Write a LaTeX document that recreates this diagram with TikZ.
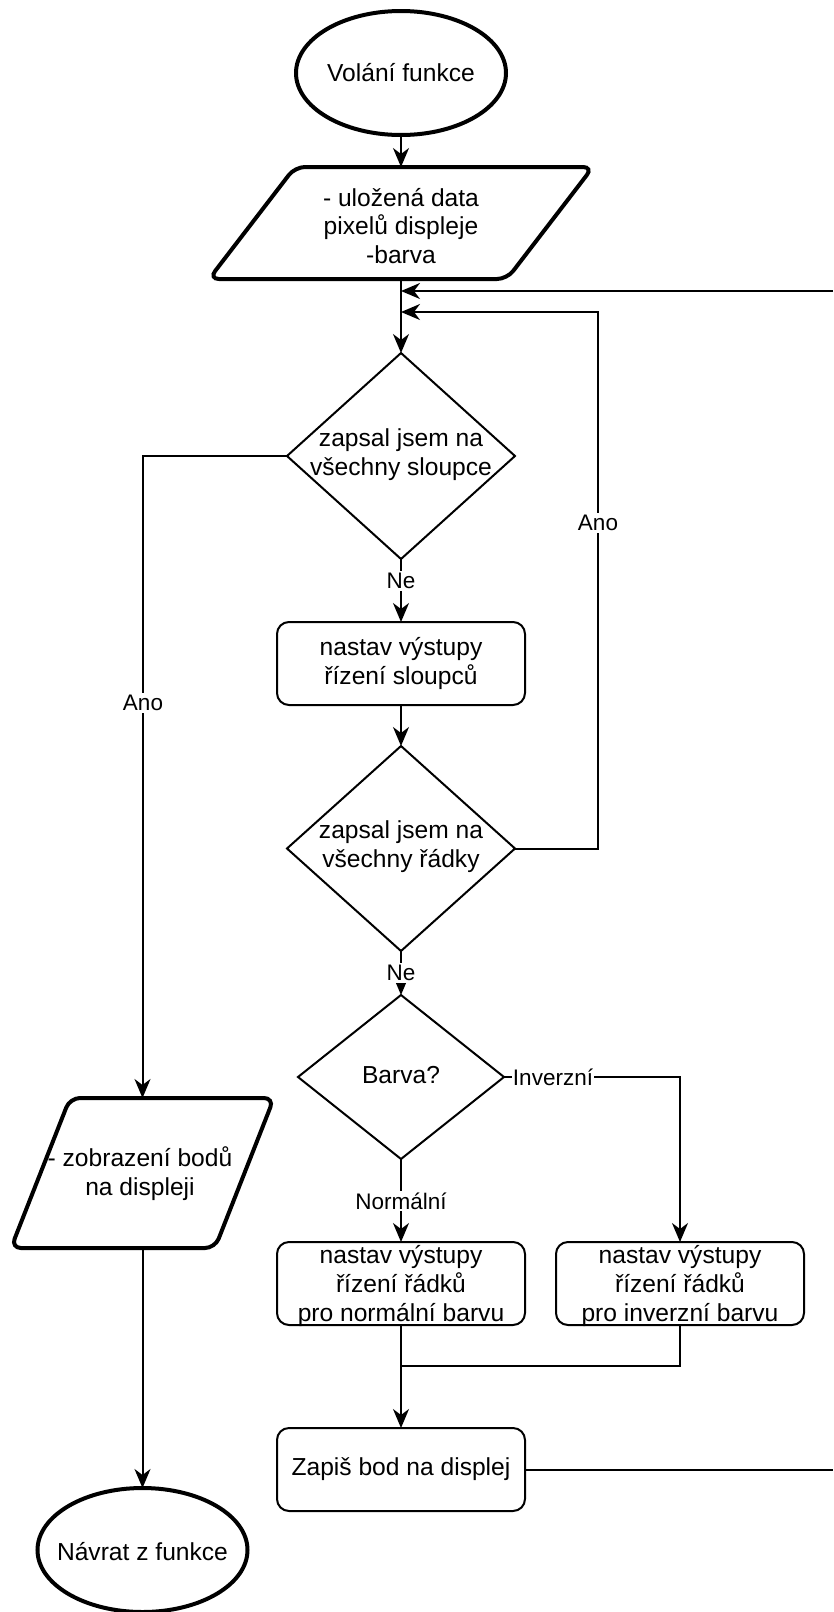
\documentclass[tikz,border=0pt]{standalone}
\usepackage{fontspec}
\setmainfont{Liberation Sans}
\usetikzlibrary{shapes.geometric,arrows.meta,calc}
\begin{document}
\begin{tikzpicture}[x=1pt,y=-1pt,
  font=\fontsize{24.6}{28.8}\selectfont,
  every node/.style={inner sep=0pt, outer sep=0pt, align=center},
  terminal/.style={ellipse, draw, line width=4pt, minimum width=210pt, minimum height=124pt},
  iobox/.style={minimum height=#1},
  slanted/.style={line width=4pt, rounded corners=10pt},
  decision/.style={diamond, draw, line width=2pt},
  process/.style={rectangle, draw, line width=2pt, rounded corners=12pt,
                  minimum width=248pt, minimum height=83pt},
  flow/.style={line width=2pt, -{Stealth[length=19pt,width=16pt,inset=6pt]}},
  link/.style={line width=2pt},
  lbl/.style={fill=white, inner sep=2pt, font=\fontsize{22.5}{26}\selectfont},
]
\useasboundingbox (0,0) rectangle (833,1612);

% start
\node[terminal] (start) at (401,73) {Volání funkce};

% input data
\node[minimum width=384pt, iobox=112pt] (data) at (401,223) {};
\draw[slanted] ($(data.north west)+(86,0)$) -- (data.north east)
  -- ($(data.south east)-(86,0)$) -- (data.south west) -- cycle;
\node (datatext) at (401,226) {- uložená data\\pixelů displeje\\-barva};

% column loop test
\node[decision, minimum width=228pt, minimum height=206pt] (q1) at (401,456) {};
\node (q1text) at (401,455) {zapsal jsem na\\všechny sloupce};

% column outputs
\node[process] (cols) at (401,663.5) {nastav výstupy\\řízení sloupců};

% row loop test
\node[decision, minimum width=228pt, minimum height=205pt] (q2) at (401,848.5) {};
\node (q2text) at (401,847) {zapsal jsem na\\všechny řádky};

% colour test
\node[decision, minimum width=206pt, minimum height=164pt] (q3) at (401,1077) {};
\node (q3text) at (401,1075) {Barva?};

% row outputs
\node[process] (rowsn) at (401,1283.5) {};
\node (rowsntext) at (401,1286) {nastav výstupy\\řízení řádků\\pro normální barvu};
\node[process] (rowsi) at (680,1283.5) {};
\node (rowsitext) at (680,1286) {nastav výstupy\\řízení řádků\\pro inverzní barvu};

% write point
\node[process] (write) at (401,1469.5) {Zapiš bod na displej};

% output to display
\node[minimum width=263pt, iobox=150pt] (show) at (142.5,1173) {};
\draw[slanted] ($(show.north west)+(59,0)$) -- (show.north east)
  -- ($(show.south east)-(59,0)$) -- (show.south west) -- cycle;
\node (showtext) at (140,1174) {- zobrazení bodů\\na displeji};

% end
\node[terminal] (stop) at (142.5,1550) {};
\node (stoptext) at (142.5,1552) {Návrat z funkce};

% helper points
\coordinate (in1) at (401,291);
\coordinate (in2) at (401,312);
\coordinate (edgeA) at (833,291);
\coordinate (turnA) at (598,312);
\coordinate (join) at (401,1366);
\coordinate (edgeB) at (833,1469.5);

% connectors
\draw[flow] (start.south) -- (data.north);
\draw[flow] (data.south) -- (q1.north);
\draw[flow] (edgeA) -- (in1);
\draw[flow] (q2.east) -| (turnA) -- (in2);
\draw[flow] (q1.south) -- (cols.north);
\draw[flow] (cols.south) -- (q2.north);
\draw[flow] (q2.south) -- (q3.north);
\draw[flow] (q1.west) -| (show.north);
\draw[flow] (q3.south) -- (rowsn.north);
\draw[flow] (q3.east) -| (rowsi.north);
\draw[flow] (rowsn.south) -- (write.north);
\draw[link] (rowsi.south) |- (join);
\draw[link] (write.east) -- (edgeB);
\draw[flow] (show.south) -- (stop.north);

% connector labels
\node[lbl] (lAnoR) at (598,523) {Ano};
\node[lbl] (lAnoL) at (143,703) {Ano};
\node[lbl] (lNe1) at (401,581) {Ne};
\node[lbl] (lNe2) at (401,973) {Ne};
\node[lbl, inner sep=1pt] (lInv) at (553,1077) {Inverzní};
\node[lbl] (lNorm) at (401,1201) {Normální};
\end{tikzpicture}
\end{document}
